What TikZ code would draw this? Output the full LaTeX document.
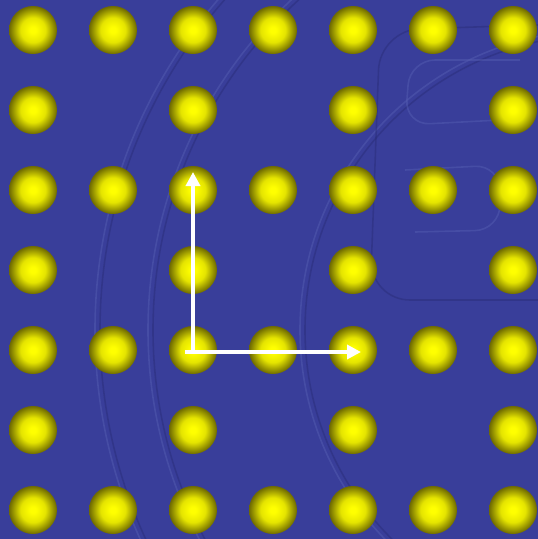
\documentclass[tikz,border=0pt]{standalone}
\usetikzlibrary{arrows.meta}
\definecolor{bg}{RGB}{57,62,154}
\definecolor{rim}{RGB}{110,106,0}
\definecolor{emb}{RGB}{84,92,176}
\definecolor{embd}{RGB}{42,46,122}
\pgfdeclareradialshading{goldball}{\pgfpoint{0bp}{0bp}}{%
  color(0bp)=(yellow); color(3bp)=(yellow); color(13bp)=(yellow!82!rim);
  color(25bp)=(rim); color(50bp)=(rim)}
\tikzset{
  ballstyle/.style={shading=goldball},
  axisarrow/.style={white, line width=3.5pt, -{Triangle[length=14pt,width=14pt]}},
  seal/.style={emb, line width=1.6pt, opacity=0.5},
  seald/.style={embd, line width=1.6pt, opacity=0.5}
}
\begin{document}
\begin{tikzpicture}[x=1pt,y=-1pt]
\useasboundingbox (0,0) rectangle (538,539);
\fill[bg] (0,0) rectangle (538,539);
% faint embossed seal
\begin{scope}
\clip (0,0) rectangle (538,539);
\draw[seal] (600,330) circle (505);
\draw[seald] (600,330) circle (500);
\draw[seal] (600,330) circle (452);
\draw[seald] (600,330) circle (447);
\draw[seal] (600,330) circle (300);
\draw[seald] (600,330) circle (295);
\draw[seald, rounded corners=40pt] (538,25) -- (380,30) -- (370,300) -- (538,300);
\draw[seal, rounded corners=25pt] (520,60) -- (410,60) -- (405,125) -- (500,120);
\draw[seal, rounded corners=25pt] (405,170) -- (500,165) -- (500,230) -- (415,232);
\end{scope}
% balls
\foreach \r in {0,2,4,6}{
  \foreach \c in {0,...,6}{
    \shade[ballstyle] (33+80*\c,30+80*\r) circle (24);
  }
}
\foreach \r in {1,3,5}{
  \foreach \c in {0,2,4,6}{
    \shade[ballstyle] (33+80*\c,30+80*\r) circle (24);
  }
}
\coordinate (o) at (193,352);
\coordinate (ytip) at (193,172);
\coordinate (xtip) at (361,352);
\coordinate (ostart) at (185,352);
\draw[axisarrow] (o) -- (ytip);
\draw[axisarrow] (ostart) -- (xtip);
\end{tikzpicture}
\end{document}
